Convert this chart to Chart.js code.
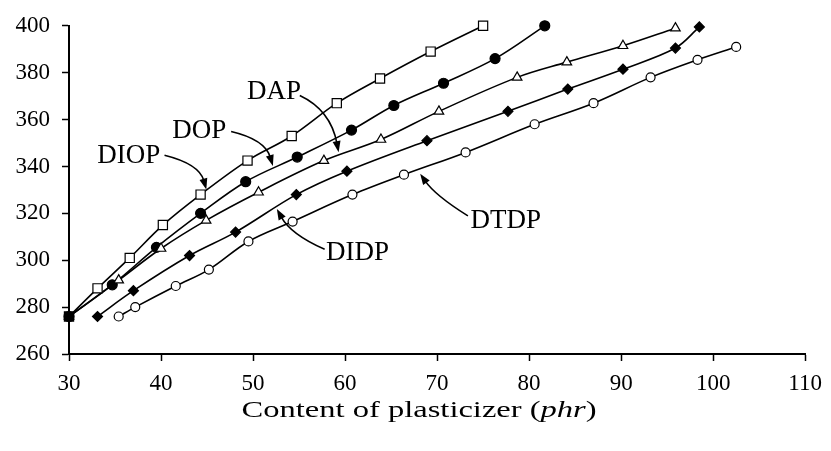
<!DOCTYPE html>
<html>
<head>
<meta charset="utf-8">
<script src="https://cdn.jsdelivr.net/npm/chart.js@4/dist/chart.umd.min.js"></script>
<style>
  html, body { margin: 0; padding: 0; background: #fff; }
  #wrap { width: 831px; height: 451px; position: relative; }
</style>
</head>
<body>
<div id="wrap"><canvas id="chart" width="831" height="451"></canvas></div>
<script>
// content of plasticizer (phr) vs temperature
const diopX = [30, 33.1, 36.6, 40.2, 44.3, 49.4, 54.2, 59.1, 63.8, 69.3, 75.0];
const diopY = [276, 288, 301, 315, 328, 342.5, 353, 367, 377.5, 389, 400];

const dopX = [30, 34.7, 39.5, 44.3, 49.2, 54.8, 60.7, 65.3, 70.7, 76.3, 81.7];
const dopY = [276, 289.5, 305.5, 320, 333.5, 344, 355.5, 366, 375.5, 386, 400];

const dapX = [30, 35.4, 40.0, 44.9, 50.6, 57.7, 63.9, 70.2, 78.7, 84.1, 90.2, 95.9];
const dapY = [276, 291.5, 305, 317, 329, 342.5, 351.5, 363.5, 378, 384.5, 391.5, 399];

const didpX = [33.1, 37.0, 43.1, 48.1, 54.7, 60.2, 68.9, 77.7, 84.2, 90.2, 95.9, 98.5];
const didpY = [276, 287, 302, 312, 328, 338, 351, 363.5, 373, 381.5, 390.5, 399.5];

const dtdpX = [35.4, 37.2, 41.6, 45.2, 49.5, 54.3, 60.8, 66.4, 73.1, 80.6, 87.0, 93.2, 98.3, 102.5];
const dtdpY = [276, 280, 289, 296, 308, 316.5, 328, 336.5, 346, 358, 367, 378, 385.5, 391];

const xTicks = [30, 40, 50, 60, 70, 80, 90, 100, 110];
const yTicks = [260, 280, 300, 320, 340, 360, 380, 400];

// callout labels: text position, arrow start, bend, tip (data units)
const callouts = [
  { text: 'DIOP', tx: 36.49, ty: 344.6, sx: 40.38, sy: 344.8, cx: 44.16, cy: 341.1, ex: 44.92, ey: 330.2 },
  { text: 'DOP',  tx: 44.16, ty: 355.0, sx: 47.62, sy: 354.9, cx: 51.30, cy: 351.5, ex: 52.16, ey: 340.2 },
  { text: 'DAP',  tx: 52.27, ty: 372.0, sx: 55.08, sy: 370.3, cx: 58.43, cy: 364.1, ex: 59.30, ey: 346.1 },
  { text: 'DIDP', tx: 61.35, ty: 303.0, sx: 57.78, sy: 304.7, cx: 54.11, cy: 311.0, ex: 52.59, ey: 321.9 },
  { text: 'DTDP', tx: 77.46, ty: 316.8, sx: 73.35, sy: 318.9, cx: 69.78, cy: 327.7, ex: 68.16, ey: 336.9 }
];

const serif = "'Liberation Serif', 'Times New Roman', Times, serif";

function pts(xs, ys) {
  return xs.map((x, i) => ({ x: x, y: ys[i] }));
}

function series(label, xs, ys, style, radius, filled) {
  return {
    label: label,
    data: pts(xs, ys),
    borderColor: '#000',
    borderWidth: 1.6,
    pointStyle: style,
    pointRadius: radius,
    pointBorderWidth: 1.2,
    pointBorderColor: '#000',
    pointBackgroundColor: filled ? '#000' : '#fff',
    tension: 0.35,
    clip: false,
    fill: false,
    order: 1
  };
}

const calloutPlugin = {
  id: 'callouts',
  afterDatasetsDraw(chart) {
    const ctx = chart.ctx;
    const xs = chart.scales.x, ys = chart.scales.y;
    ctx.save();
    ctx.fillStyle = '#000';
    ctx.strokeStyle = '#000';
    ctx.lineWidth = 1.6;
    ctx.font = '27px ' + serif;
    ctx.textAlign = 'center';
    ctx.textBaseline = 'middle';
    callouts.forEach(c => {
      ctx.fillText(c.text, xs.getPixelForValue(c.tx), ys.getPixelForValue(c.ty));
      const sx = xs.getPixelForValue(c.sx), sy = ys.getPixelForValue(c.sy);
      const cx = xs.getPixelForValue(c.cx), cy = ys.getPixelForValue(c.cy);
      const ex = xs.getPixelForValue(c.ex), ey = ys.getPixelForValue(c.ey);
      const ang = Math.atan2(ey - cy, ex - cx);
      const len = 11, half = 4;
      const bx = ex - len * Math.cos(ang), by = ey - len * Math.sin(ang);
      ctx.beginPath();
      ctx.moveTo(sx, sy);
      ctx.quadraticCurveTo(cx, cy, bx + 2 * Math.cos(ang), by + 2 * Math.sin(ang));
      ctx.stroke();
      ctx.beginPath();
      ctx.moveTo(ex, ey);
      ctx.lineTo(bx + half * Math.sin(ang), by - half * Math.cos(ang));
      ctx.lineTo(bx - half * Math.sin(ang), by + half * Math.cos(ang));
      ctx.closePath();
      ctx.fill();
    });
    ctx.restore();
  },
  afterDraw(chart) {
    // x axis title with italic unit
    const ctx = chart.ctx;
    const area = chart.chartArea;
    const parts = [
      { t: 'Content of plasticizer (', f: '24px ' + serif },
      { t: 'phr', f: 'italic 24px ' + serif },
      { t: ')', f: '24px ' + serif }
    ];
    ctx.save();
    let total = 0;
    parts.forEach(p => { ctx.font = p.f; p.w = ctx.measureText(p.t).width; total += p.w; });
    const target = 355;
    const k = target / total;
    const mid = (area.left + area.right) / 2 - 18;
    ctx.translate(mid - target / 2, 411);
    ctx.scale(k, 1);
    ctx.fillStyle = '#000';
    ctx.textBaseline = 'middle';
    let x = 0;
    parts.forEach(p => { ctx.font = p.f; ctx.fillText(p.t, x, 0); x += p.w; });
    ctx.restore();
  }
};

const diopSet = series('DIOP', diopX, diopY, 'rect', 6.5, false);
// the shared starting point shows as a solid square in the figure
diopSet.pointBackgroundColor = diopX.map((x, i) => i === 0 ? '#000' : '#fff');
diopSet.order = 0;

new Chart(document.getElementById('chart').getContext('2d'), {
  type: 'line',
  data: {
    datasets: [
      series('DTDP', dtdpX, dtdpY, 'circle', 4.5, false),
      series('DIDP', didpX, didpY, 'rectRot', 5, true),
      series('DAP', dapX, dapY, 'triangle', 5.5, false),
      series('DOP', dopX, dopY, 'circle', 5, true),
      diopSet
    ]
  },
  options: {
    responsive: false,
    animation: false,
    layout: { padding: { top: 19, right: 22, left: 0, bottom: 0 } },
    plugins: {
      legend: { display: false },
      tooltip: { enabled: false }
    },
    scales: {
      x: {
        type: 'linear',
        min: xTicks[0],
        max: xTicks[xTicks.length - 1],
        afterBuildTicks: s => { s.ticks = xTicks.map(v => ({ value: v })); },
        afterFit: s => { s.height = 97; },
        grid: { drawOnChartArea: false, drawTicks: true, tickLength: 7, tickColor: '#000', tickWidth: 1.5 },
        border: { display: true, color: '#000', width: 2 },
        ticks: { color: '#000', padding: 9, maxRotation: 0, font: { family: serif, size: 23 } }
      },
      y: {
        type: 'linear',
        min: yTicks[0],
        max: yTicks[yTicks.length - 1],
        afterBuildTicks: s => { s.ticks = yTicks.map(v => ({ value: v })); },
        afterFit: s => { s.width = 69; },
        grid: { drawOnChartArea: false, drawTicks: true, tickLength: 7, tickColor: '#000', tickWidth: 1.5 },
        border: { display: true, color: '#000', width: 2 },
        ticks: { color: '#000', padding: 12, font: { family: serif, size: 23 } }
      }
    }
  },
  plugins: [calloutPlugin]
});
</script>
</body>
</html>
